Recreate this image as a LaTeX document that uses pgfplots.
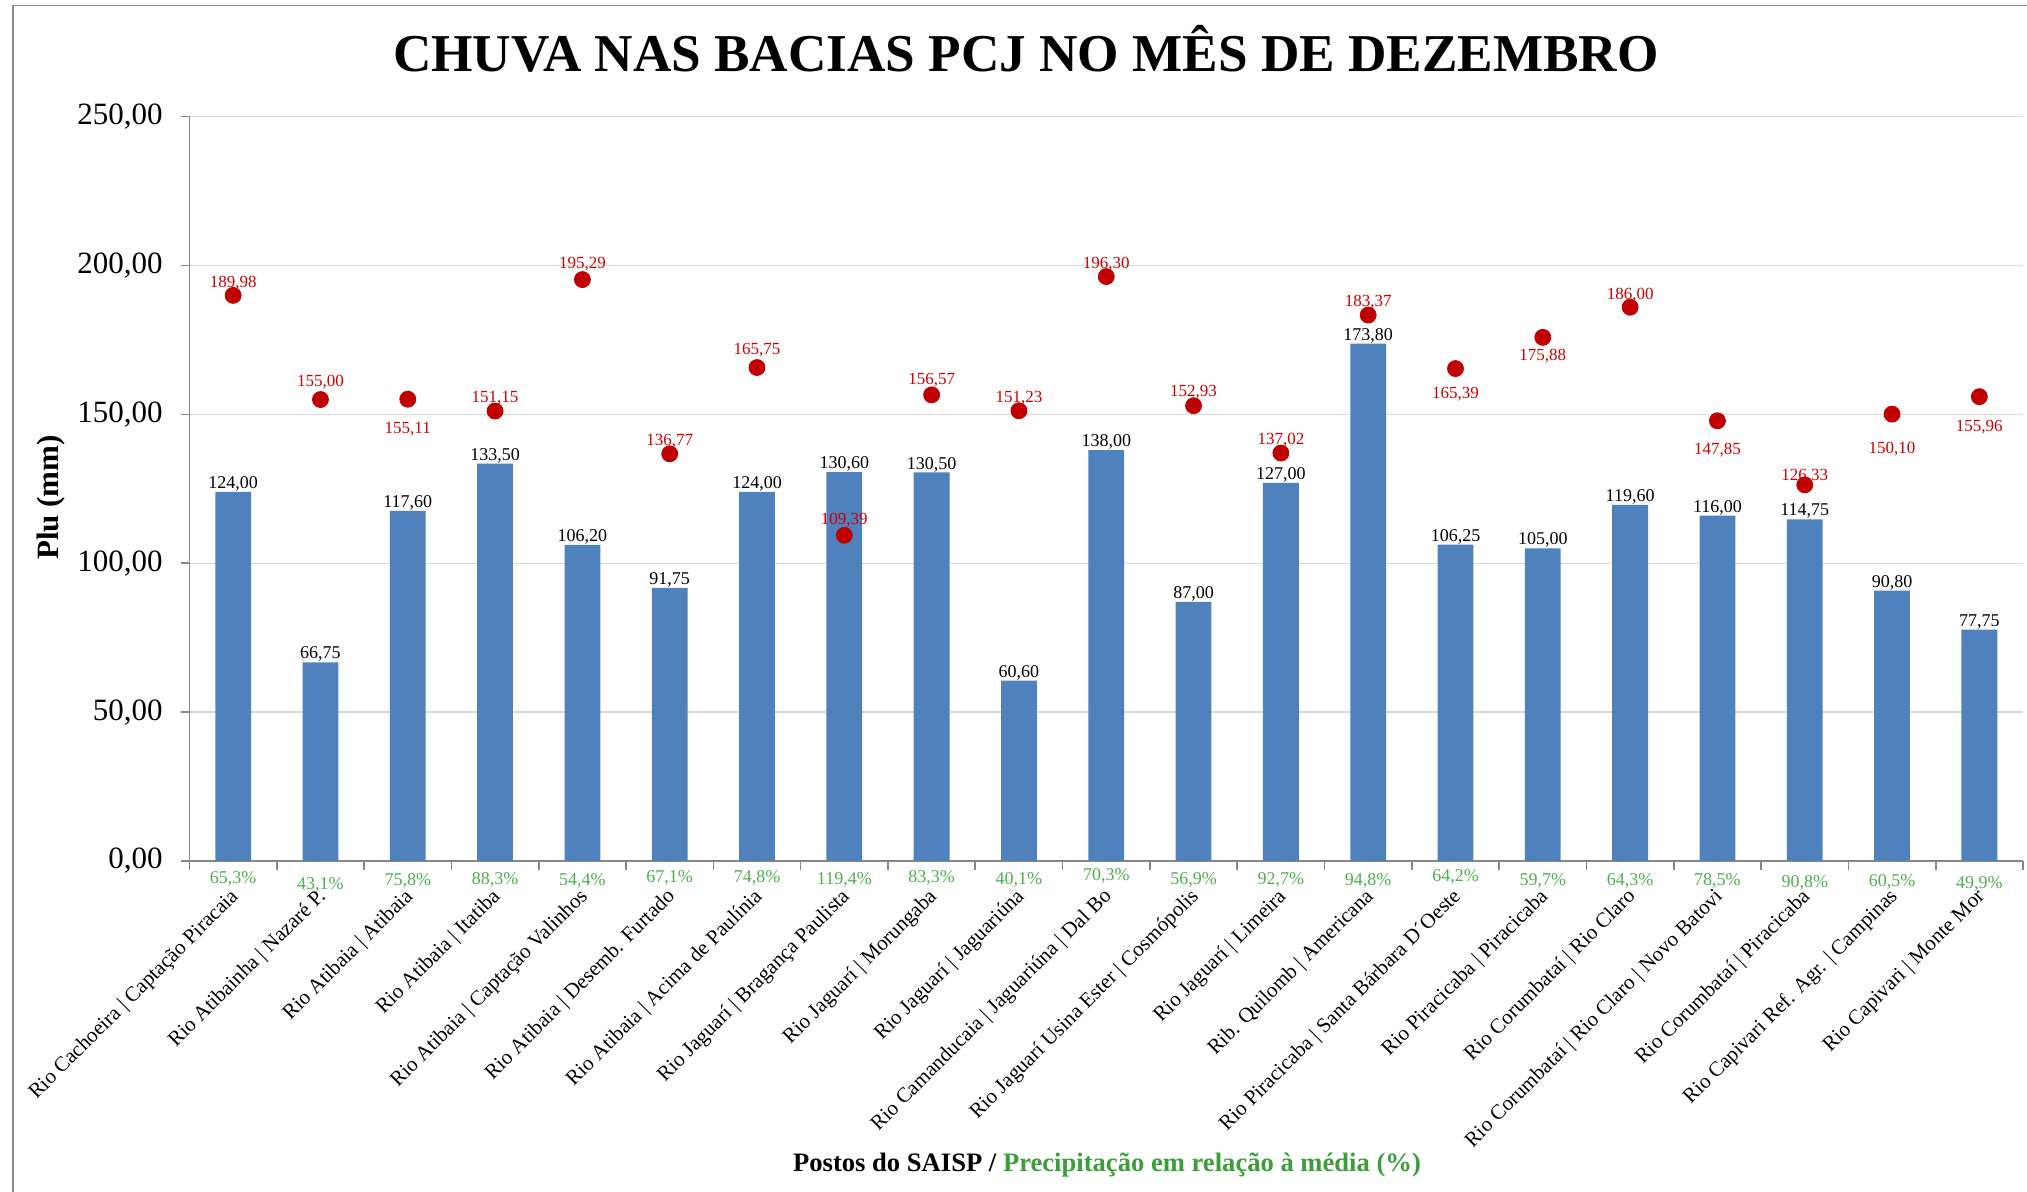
\documentclass[border=0pt]{standalone}
\usepackage{pgfplots}
\pgfplotsset{compat=1.18}
\usepackage{pgfplotstable}
\usepackage{fontspec}
\setmainfont{Liberation Serif}
\definecolor{barblue}{HTML}{4F81BD}
\definecolor{dotred}{HTML}{C00000}
\definecolor{labred}{HTML}{CC0000}
\definecolor{pctgreen}{HTML}{4DAF4D}
\definecolor{titlegreen}{HTML}{3A9E3A}
\definecolor{gridgray}{HTML}{D9D9D9}
\definecolor{axisgray}{HTML}{878787}
\definecolor{framegray}{HTML}{8C8C8C}

\pgfplotstableread{
x bar
0 124.00
1 66.75
2 117.60
3 133.50
4 106.20
5 91.75
6 124.00
7 130.60
8 130.50
9 60.60
10 138.00
11 87.00
12 127.00
13 173.80
14 106.25
15 105.00
16 119.60
17 116.00
18 114.75
19 90.80
20 77.75
}\barsdata

\pgfplotstableread{
x y dy
0 189.98 7.3
1 155.00 9.75
2 155.11 -13.5
3 151.15 7.65
4 195.29 8.8
5 136.77 7.65
6 165.75 9.8
7 109.39 9.0
8 156.57 8.4
9 151.23 7.5
10 196.30 7.5
11 152.93 8.0
12 137.02 7.85
13 183.37 7.65
14 165.39 -11.5
15 175.88 -8.0
16 186.00 7.25
17 147.85 -13.5
18 126.33 5.75
19 150.10 -16.5
20 155.96 -14.0
}\dotsdata

\pgfplotstableread{
x y pct dy
0 0 65.3 -7.8
1 0 43.1 -10.8
2 0 75.8 -9.0
3 0 88.3 -8.5
4 0 54.4 -9.0
5 0 67.1 -7.5
6 0 74.8 -7.5
7 0 119.4 -8.2
8 0 83.3 -7.2
9 0 40.1 -8.2
10 0 70.3 -6.5
11 0 56.9 -8.5
12 0 92.7 -8.5
13 0 94.8 -9.0
14 0 64.2 -7.0
15 0 59.7 -9.0
16 0 64.3 -9.0
17 0 78.5 -9.0
18 0 90.8 -10.0
19 0 60.5 -9.5
20 0 49.9 -10.5
}\pctdata

\begin{document}
\begin{tikzpicture}
\useasboundingbox (0,0) rectangle (1013.5pt,596pt);
\draw[framegray, line width=0.8pt] (6.35pt,-2pt) -- (6.35pt,593.15pt) -- (1016pt,593.15pt);
\begin{axis}[
  at={(94.75pt,165.5pt)}, anchor=south west,
  scale only axis, width=916.75pt, height=372.15pt,
  xmin=-0.5, xmax=20.5, ymin=0, ymax=250,
  clip=false,
  axis x line*=bottom, axis y line*=left,
  axis line style={axisgray, line width=0.8pt},
  ytick={0,50,100,150,200,250},
  ymajorgrids, grid style={gridgray, line width=0.75pt},
  tick align=outside,
  major tick length=4.5pt,
  tick style={axisgray, line width=0.8pt},
  /pgf/number format/assume math mode=true,
  yticklabel style={font=\fontsize{15.5}{18}\selectfont, inner sep=0pt, xshift=-8.75pt,
    /pgf/number format/.cd, fixed, fixed zerofill, precision=2, use comma},
  xtick={-0.5,0.5,...,20.5},
  xticklabels={},
  extra x ticks={0,1,...,20},
  extra x tick style={major tick length=0pt},
  extra x tick labels={
    {Rio Cachoeira | Captação Piracaia},
    {Rio Atibainha | Nazaré P.},
    {Rio Atibaia | Atibaia},
    {Rio Atibaia | Itatiba},
    {Rio Atibaia | Captação Valinhos},
    {Rio Atibaia | Desemb. Furtado},
    {Rio Atibaia | Acima de Paulínia},
    {Rio Jaguarí | Bragança Paulista},
    {Rio Jaguarí | Morungaba},
    {Rio Jaguarí | Jaguariúna},
    {Rio Camanducaia | Jaguariúna | Dal Bo},
    {Rio Jaguarí Usina Ester | Cosmópolis},
    {Rio Jaguarí | Limeira},
    {Rib. Quilomb | Americana},
    {Rio Piracicaba | Santa Bárbara D´Oeste},
    {Rio Piracicaba | Piracicaba},
    {Rio Corumbataí | Rio Claro},
    {Rio Corumbataí | Rio Claro | Novo Batovi},
    {Rio Corumbataí | Piracicaba},
    {Rio Capivari Ref. Agr. | Campinas},
    {Rio Capivari | Monte Mor}},
  xticklabel style={font=\fontsize{10.5}{12}\selectfont, xshift=-2.2pt, yshift=-12.8pt,
    rotate=45, anchor=north east, inner sep=0pt},
]
\addplot[ybar, bar width=0.41, fill=barblue, draw=none,
  point meta=y,
  nodes near coords={\pgfmathprintnumber[fixed,fixed zerofill,precision=2,use comma]{\pgfplotspointmeta}},
  every node near coord/.append style={font=\fontsize{9}{10}\selectfont, text=black,
    anchor=south, inner sep=0pt, text depth=0pt, yshift=1.5pt}]
  table[x=x, y=bar] {\barsdata};
\addplot[only marks, mark=*, mark size=4pt, mark options={fill=dotred, draw=dotred},
  point meta=y,
  visualization depends on={\thisrow{dy} \as \dy},
  nodes near coords={\pgfmathprintnumber[fixed,fixed zerofill,precision=2,use comma]{\pgfplotspointmeta}},
  every node near coord/.append style={font=\fontsize{8.5}{10}\selectfont, text=labred,
    anchor=center, inner sep=0pt, text height=0.68em, text depth=0pt, yshift=\dy pt}]
  table[x=x, y=y] {\dotsdata};
\addplot[draw=none,
  point meta=\thisrow{pct},
  visualization depends on={\thisrow{dy} \as \dy},
  nodes near coords={\pgfmathprintnumber[fixed,fixed zerofill,precision=1,use comma]{\pgfplotspointmeta}\%},
  every node near coord/.append style={font=\fontsize{9}{10}\selectfont, text=pctgreen,
    anchor=center, inner sep=0pt, text height=0.68em, text depth=0pt, yshift=\dy pt}]
  table[x=x, y=y] {\pctdata};
\end{axis}
\node[anchor=base, font=\fontsize{26.6}{30}\selectfont\bfseries] at (513pt,560.2pt)
  {CHUVA NAS BACIAS PCJ NO MÊS DE DEZEMBRO};
\node[anchor=base, rotate=90, font=\fontsize{15.5}{18}\selectfont\bfseries] at (29pt,347.25pt)
  {Plu (mm)};
\node[anchor=base, font=\fontsize{13.3}{15}\selectfont\bfseries] at (553.5pt,10.15pt)
  {Postos do SAISP / \textcolor{titlegreen}{Precipitação em relação à média (\%)}};
\end{tikzpicture}
\end{document}
